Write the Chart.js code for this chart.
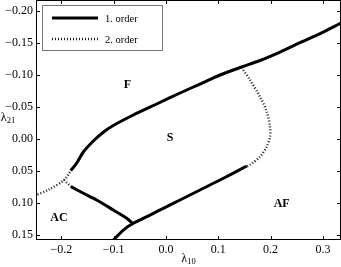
<!DOCTYPE html>
<html>
<head>
<meta charset="utf-8">
<script src="https://cdn.jsdelivr.net/npm/chart.js@4.4.0/dist/chart.umd.min.js"></script>
<style>
  html, body { margin: 0; padding: 0; background: #fff; }
</style>
</head>
<body>
<canvas id="myChart" width="341" height="267"></canvas>
<script>
// axis ranges and ticks
const xMin = -0.2486, xMax = 0.3346;
const yMin = -0.2172, yMax = 0.1578;
const xTickValues = [-0.2, -0.1, 0.0, 0.1, 0.2, 0.3];
const xTickLabels = ['\u22120.2', '\u22120.1', '0.0', '0.1', '0.2', '0.3'];
const yTickValues = [-0.2, -0.15, -0.1, -0.05, 0.0, 0.05, 0.1, 0.15];
const yTickLabels = ['\u22120.20', '\u22120.15', '\u22120.10', '\u22120.05', '0.00', '0.05', '0.10', '0.15'];

// 1. order, F / S boundary
const upperX = [-0.1822, -0.1707, -0.1581, -0.1390, -0.1205, -0.1008, -0.0625, -0.0178, 0.0268, 0.0650, 0.1033, 0.1447, 0.1797, 0.2180, 0.2562, 0.2945, 0.3327, 0.3423];
const upperY = [0.0495, 0.0375, 0.0203, 0.0031, -0.0102, -0.0211, -0.0375, -0.0547, -0.0719, -0.0859, -0.1000, -0.1125, -0.1227, -0.1359, -0.1505, -0.1648, -0.1805, -0.1844];
// 1. order, S / AF boundary
const lowerX = [-0.1080, -0.0816, -0.0625, -0.0306, -0.0052, 0.0268, 0.0650, 0.1033, 0.1543];
const lowerY = [0.1640, 0.1422, 0.1317, 0.1188, 0.1083, 0.0953, 0.0797, 0.0641, 0.0422];
// 1. order, AC / S boundary
const acX = [-0.1816, -0.1581, -0.1325, -0.1008, -0.0751, -0.0625];
const acY = [0.0745, 0.0848, 0.0953, 0.1109, 0.1239, 0.1328];
// 2. order, S / AF arc
const arcX = [0.1447, 0.1606, 0.1797, 0.1925, 0.1989, 0.1989, 0.1925, 0.1797, 0.1606, 0.1543];
const arcY = [-0.1117, -0.0922, -0.0661, -0.0427, -0.0192, -0.0036, 0.0120, 0.0277, 0.0406, 0.0430];
// 2. order, AC / F boundary and branch
const leftX = [-0.2560, -0.2218, -0.1950, -0.1822];
const leftY = [0.0905, 0.0781, 0.0640, 0.0495];
const branchX = [-0.1950, -0.1816];
const branchY = [0.0640, 0.0745];

// phase names
const regionNames = ['F', 'S', 'AC', 'AF'];
const regionX = [-0.0740, 0.0076, -0.2046, 0.2212];
const regionY = [-0.0844, -0.0011, 0.1240, 0.1016];

const pts = (xs, ys) => xs.map((v, i) => ({ x: v, y: ys[i] }));

const solid = { borderColor: '#000', borderWidth: 3, tension: 0.25 };
const dotted = { borderColor: '#222', borderWidth: 2.5, borderDash: [1, 2], tension: 0.3 };

const serif = '"Liberation Serif", "DejaVu Serif", serif';

const decor = {
  id: 'decor',
  afterDraw(chart) {
    const { ctx, chartArea: a, scales: { x, y } } = chart;
    ctx.save();
    ctx.strokeStyle = '#000';
    ctx.lineWidth = 1;
    ctx.strokeRect(a.left + 0.5, a.top + 0.5, a.right - a.left - 1, a.bottom - a.top - 1);

    // ticks point inwards, on all four sides
    ctx.beginPath();
    xTickValues.forEach(v => {
      const px = Math.round(x.getPixelForValue(v)) + 0.5;
      ctx.moveTo(px, a.bottom); ctx.lineTo(px, a.bottom - 4);
      ctx.moveTo(px, a.top); ctx.lineTo(px, a.top + 4);
    });
    yTickValues.forEach(v => {
      const py = Math.round(y.getPixelForValue(v)) + 0.5;
      ctx.moveTo(a.left, py); ctx.lineTo(a.left + 4, py);
      ctx.moveTo(a.right, py); ctx.lineTo(a.right - 4, py);
    });
    ctx.stroke();

    // phase names
    ctx.fillStyle = '#000';
    ctx.font = 'bold 12px ' + serif;
    ctx.textAlign = 'center';
    ctx.textBaseline = 'middle';
    regionNames.forEach((n, i) => {
      ctx.fillText(n, x.getPixelForValue(regionX[i]), y.getPixelForValue(regionY[i]));
    });

    // legend
    const lx = a.left + 6, ly = a.top + 5;
    ctx.fillStyle = '#fff';
    ctx.fillRect(lx, ly, 121, 46);
    ctx.strokeStyle = '#777';
    ctx.strokeRect(lx + 0.5, ly + 0.5, 120, 45);
    const seen = [];
    chart.data.datasets.forEach(ds => {
      if (seen.find(d => d.label === ds.label)) return;
      seen.push(ds);
    });
    ctx.textAlign = 'left';
    ctx.font = '10.5px ' + serif;
    seen.forEach((ds, i) => {
      const yy = ly + 13 + i * 21;
      ctx.strokeStyle = ds.borderColor;
      ctx.lineWidth = ds.borderWidth;
      ctx.setLineDash(ds.borderDash || []);
      ctx.beginPath();
      ctx.moveTo(lx + 10, yy); ctx.lineTo(lx + 56, yy);
      ctx.stroke();
      ctx.setLineDash([]);
      ctx.fillStyle = '#000';
      ctx.fillText(ds.label, lx + 63, yy + 1);
    });

    // axis titles with subscripts
    const title = (main, sub, cx, cy) => {
      ctx.font = '12px ' + serif;
      const w1 = ctx.measureText(main).width;
      ctx.font = '8.5px ' + serif;
      const w2 = ctx.measureText(sub).width;
      const x0 = cx - (w1 + w2) / 2;
      ctx.textAlign = 'left';
      ctx.textBaseline = 'alphabetic';
      ctx.font = '12px ' + serif;
      ctx.fillText(main, x0, cy + 4);
      ctx.font = '8.5px ' + serif;
      ctx.fillText(sub, x0 + w1, cy + 6);
    };
    title('\u03bb', '10', (a.left + a.right) / 2, 258);
    title('\u03bb', '21', 8, (a.top + a.bottom) / 2 - 3);
    ctx.restore();
  }
};

new Chart(document.getElementById('myChart'), {
  type: 'scatter',
  data: {
    datasets: [
      { label: '1. order', data: pts(upperX, upperY), ...solid },
      { label: '2. order', data: pts(arcX, arcY), ...dotted },
      { label: '1. order', data: pts(lowerX, lowerY), ...solid },
      { label: '1. order', data: pts(acX, acY), ...solid },
      { label: '2. order', data: pts(leftX, leftY), ...dotted },
      { label: '2. order', data: pts(branchX, branchY), ...dotted, tension: 0 }
    ].map(d => ({ ...d, showLine: true, pointRadius: 0, clip: 0 }))
  },
  options: {
    responsive: false,
    animation: false,
    layout: { padding: { top: 0, right: 0, left: 0, bottom: 0 } },
    plugins: { legend: { display: false }, tooltip: { enabled: false } },
    scales: {
      x: {
        type: 'linear', min: xMin, max: xMax,
        afterBuildTicks: s => { s.ticks = xTickValues.map(v => ({ value: v })); },
        afterFit: s => { s.height = 27; s.paddingLeft = 0; s.paddingRight = 0; },
        grid: { display: false, drawTicks: false },
        border: { display: false },
        ticks: {
          color: '#000', padding: 3, autoSkip: false, maxRotation: 0,
          font: { family: serif, size: 12 },
          callback: (v, i) => xTickLabels[i]
        }
      },
      y: {
        type: 'linear', min: yMin, max: yMax, reverse: true,
        afterBuildTicks: s => { s.ticks = yTickValues.map(v => ({ value: v })); },
        afterFit: s => { s.width = 36; s.paddingTop = 0; s.paddingBottom = 0; },
        grid: { display: false, drawTicks: false },
        border: { display: false },
        ticks: {
          color: '#000', padding: 3, autoSkip: false,
          font: { family: serif, size: 12 },
          callback: (v, i) => yTickLabels[i]
        }
      }
    }
  },
  plugins: [decor]
});
</script>
</body>
</html>
